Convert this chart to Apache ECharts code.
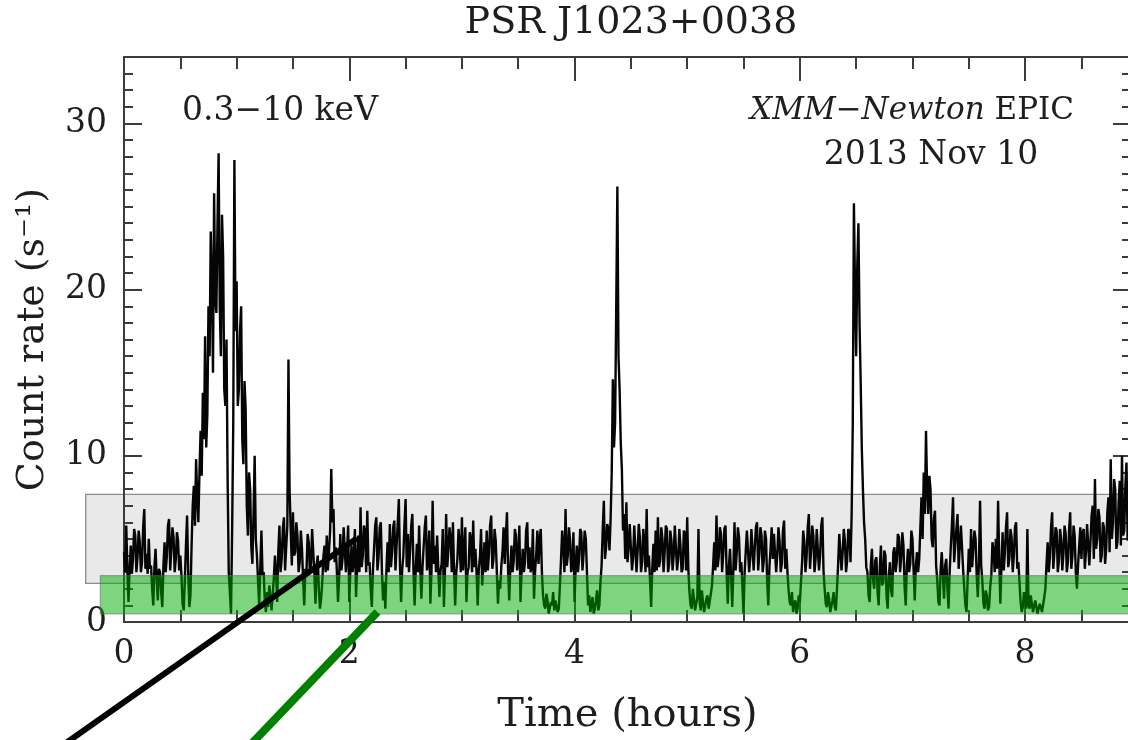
<!DOCTYPE html>
<html>
<head>
<meta charset="utf-8">
<title>PSR J1023+0038 light curve</title>
<script src="https://cdn.jsdelivr.net/npm/echarts/dist/echarts.min.js"></script>
<style>
  html, body { margin: 0; padding: 0; background: #ffffff; }
  #chart { width: 1128px; height: 740px; }
</style>
</head>
<body>
<div id="chart"></div>
<script>
// EPIC 0.3-10 keV count rate, binned every 0.01 h, one array per hour of exposure
const BIN_HOURS = 0.01;
const BINS_PER_HOUR = 100;
const rateHour0 = [
  4.2,3.0, 5.8,3.1, 1.2,3.3, 4.6,2.9, 3.8,5.6, 5.2,3.0, 3.9,5.5, 4.8,3.0, 3.6,5.7, 6.8,3.2,
  4.1,2.9, 5.0,3.2, 3.4,2.0, 1.0,3.3, 4.4,2.6, 1.3,3.2, 3.0,1.8, 0.9,3.4, 4.8,3.0, 3.9,5.8,
  6.2,3.1, 4.3,5.7, 5.1,3.0, 3.8,5.4, 4.9,3.1, 4.0,2.8, 1.1,0.7, 2.5,4.6, 6.4,3.0, 0.9,1.6,
  4.6,7.0, 8.2,5.8, 9.8,7.5, 6.0,9.0, 11.5,8.8, 13.8,11.0, 17.2,10.5, 12.5,19.0, 16.0,23.5, 20.5,15.0,
  25.8,19.5, 18.6,24.0, 28.2,19.0, 16.0,24.5, 22.0,14.0, 13.0,17.0, 8.5,3.0, 1.8,0.5, 5.5,12.0, 27.8,17.5];
const rateHour1 = [
  20.5,13.0, 14.0,17.5, 19.0,11.0, 9.5,14.5, 12.8,7.0, 5.2,9.0, 8.0,4.5, 3.5,6.5, 10.0,5.0, 4.0,2.5,
  1.0,3.3, 5.5,2.8, 3.0,1.2, 0.6,1.8, 0.9,2.2, 1.5,0.7, 0.8,2.6, 4.0,3.0, 1.2,4.3, 5.8,3.0,
  3.8,5.6, 6.3,3.1, 4.5,5.8, 15.8,8.0, 5.5,3.4, 6.6,4.0, 4.2,6.0, 5.2,3.0, 3.6,5.5, 4.4,2.6,
  1.0,3.2, 3.0,5.3, 4.8,3.0, 3.5,5.6, 5.6,2.9, 1.1,3.4, 4.0,1.9, 0.8,1.4, 2.4,3.9, 4.6,3.0,
  5.2,3.1, 3.0,5.5, 9.2,6.0, 6.8,3.6, 4.5,3.0, 1.2,2.6, 5.3,3.1, 3.8,5.7, 5.8,3.0, 4.2,5.8];
const rateHour2 = [
  1.2,3.2, 4.6,3.0, 3.8,5.6, 1.5,3.4, 5.2,3.0, 6.9,3.3, 4.0,5.8, 5.5,3.0, 6.7,3.4, 3.6,2.0,
  0.9,3.1, 4.4,5.8, 6.3,3.1, 3.9,5.7, 6.0,3.0, 1.3,2.4, 0.8,3.2, 4.8,3.0, 5.9,3.3, 4.2,5.7,
  6.1,3.1, 4.6,5.9, 7.4,3.4, 1.2,3.2, 4.0,5.9, 7.4,3.3, 5.3,3.0, 4.3,5.8, 6.5,3.1, 1.0,3.2,
  4.7,3.0, 5.8,3.2, 1.4,3.3, 4.5,5.7, 6.4,3.1, 3.7,5.5, 1.1,3.1, 7.3,3.5, 4.6,3.0, 5.2,3.2,
  1.5,3.1, 3.5,5.6, 0.9,3.2, 6.5,3.3, 4.4,5.7, 5.0,3.0, 6.0,3.1, 1.0,3.0, 3.8,5.6, 4.7,3.0];
const rateHour3 = [
  6.3,3.1, 4.2,5.7, 1.2,3.0, 3.3,5.4, 5.0,3.0, 6.1,3.3, 4.4,3.0, 1.0,3.2, 3.9,5.6, 2.2,3.4,
  4.8,3.0, 5.5,3.1, 4.1,5.8, 6.4,3.2, 3.8,5.6, 4.9,3.0, 1.1,2.5, 2.0,3.4, 4.2,5.7, 3.5,5.2,
  6.6,3.1, 1.3,3.3, 4.6,3.0, 3.7,5.6, 5.2,3.1, 4.0,5.8, 1.2,3.1, 4.4,3.0, 3.6,5.5, 6.0,3.2,
  4.5,3.0, 3.3,5.6, 1.4,3.1, 4.1,5.5, 3.5,5.0, 5.6,3.0, 1.6,1.0, 0.8,1.7, 1.3,0.5, 0.6,1.2,
  1.0,1.8, 0.7,1.3, 1.4,0.6, 0.8,2.2, 3.8,5.5, 4.5,3.0, 6.8,3.4, 4.0,5.7, 4.9,3.0, 3.5,5.4];
const rateHour4 = [
  1.2,3.4, 4.6,3.0, 3.8,5.6, 5.4,3.1, 4.1,5.5, 5.0,3.0, 1.0,1.6, 0.6,1.1, 1.5,0.5, 0.8,1.3,
  1.9,0.7, 1.0,2.4, 3.4,5.6, 7.3,3.8, 4.5,5.9, 5.6,4.3, 6.2,9.0, 14.6,10.5, 12.0,19.0, 26.2,16.0,
  14.0,10.8, 9.2,5.5, 6.5,3.8, 7.2,3.6, 4.5,5.9, 6.0,3.1, 3.9,5.8, 5.8,3.0, 4.3,5.9, 5.1,3.0,
  3.6,5.6, 4.8,3.0, 6.8,3.3, 4.0,2.5, 0.9,3.2, 4.7,3.0, 5.5,3.1, 6.3,3.3, 3.7,5.7, 5.0,3.0,
  4.2,5.8, 5.6,3.0, 3.5,5.5, 4.9,3.1, 4.0,5.8, 5.8,3.1, 3.8,5.6, 4.6,3.0, 3.2,5.5, 5.3,3.1];
const rateHour5 = [
  6.3,3.2, 1.8,1.0, 0.8,2.0, 1.4,0.7, 0.6,1.5, 5.6,1.2, 0.7,1.9, 1.2,0.6, 0.5,1.4, 1.6,0.8,
  0.9,1.7, 2.2,3.4, 4.8,3.1, 6.4,3.3, 3.9,5.7, 5.3,3.0, 4.1,5.6, 5.8,3.0, 1.1,3.3, 4.4,2.7,
  0.9,3.2, 6.0,3.1, 4.2,5.7, 5.1,3.0, 3.6,2.2, 0.5,3.0, 4.3,5.5, 5.4,3.0, 3.9,5.6, 5.7,3.1,
  4.5,5.7, 6.0,3.1, 4.1,5.7, 5.2,3.0, 3.7,5.5, 5.0,2.4, 1.0,3.3, 4.4,5.7, 3.8,5.3, 5.4,3.0,
  4.1,5.7, 4.9,3.0, 3.5,5.5, 6.1,3.2, 4.4,3.0, 1.9,1.2, 1.0,1.8, 0.6,1.1, 1.3,0.5, 0.8,1.6];
const rateHour6 = [
  1.2,2.4, 3.6,5.5, 4.8,3.0, 3.9,5.7, 6.5,3.2, 4.3,5.8, 5.2,3.0, 3.8,5.6, 5.5,3.1, 4.0,5.8,
  6.3,3.1, 2.0,1.1, 0.9,1.8, 1.4,0.6, 0.6,1.3, 1.8,0.9, 0.7,2.0, 3.5,5.3, 5.4,3.1, 4.2,5.6,
  4.9,3.0, 3.7,5.6, 5.4,3.6, 6.5,12.0, 25.2,20.0, 16.0,21.5, 24.0,18.0, 14.5,10.5, 8.0,6.0, 5.0,3.3,
  3.0,1.6, 1.2,3.4, 4.4,2.6, 2.0,3.7, 3.9,1.8, 1.0,3.3, 4.6,2.2, 2.4,4.3, 4.0,1.5, 0.8,2.8,
  3.6,1.9, 1.5,4.2, 4.5,3.0, 3.6,5.3, 5.1,3.0, 3.9,5.4, 4.6,2.1, 1.0,3.4, 4.4,3.0, 3.5,5.5];
const rateHour7 = [
  5.0,3.1, 1.3,3.4, 4.2,3.0, 3.8,5.7, 7.5,5.0, 9.0,6.5, 11.5,8.0, 6.5,8.8, 8.0,5.0, 4.5,6.2,
  6.7,3.4, 2.5,1.2, 1.0,3.2, 4.2,2.8, 1.4,3.4, 3.8,2.0, 0.8,3.0, 4.5,5.8, 7.5,3.6, 3.6,5.6,
  6.5,3.2, 4.6,5.8, 5.8,3.1, 2.0,1.0, 0.6,2.6, 4.4,3.0, 5.6,3.3, 3.3,5.5, 5.0,2.8, 1.5,3.6,
  7.3,3.4, 2.5,1.1, 0.8,1.9, 1.6,0.7, 0.9,2.1, 2.8,4.8, 4.3,3.0, 5.0,3.2, 7.3,3.8, 1.1,3.4,
  5.4,3.1, 4.1,5.7, 6.6,3.3, 3.8,5.6, 5.1,3.0, 4.0,5.7, 6.0,3.2, 3.6,2.4, 1.2,0.6, 0.9,1.8];
const rateHour8 = [
  1.4,0.8, 5.6,1.0, 0.8,1.6, 1.5,0.6, 0.6,1.3, 1.2,0.5, 0.5,1.1, 1.0,0.6, 0.7,1.5, 2.0,3.5,
  4.8,3.0, 3.9,5.7, 6.6,3.2, 4.2,5.7, 5.5,3.0, 3.7,5.6, 5.0,3.1, 4.1,5.8, 5.3,3.0, 3.6,5.5,
  6.6,3.2, 4.0,5.8, 5.2,3.0, 2.0,3.4, 4.6,5.7, 3.8,5.4, 5.6,3.2, 4.2,5.9, 6.0,3.4, 4.8,6.4,
  7.0,3.8, 8.6,4.4, 5.0,6.8, 6.3,3.6, 4.0,6.0, 5.7,3.5, 4.4,6.6, 7.5,4.2, 9.8,5.0, 6.0,8.6,
  8.0,4.4, 4.8,7.2, 8.5,4.6, 10.0,5.2, 5.5,8.2, 9.6,4.9, 6.0,8.0, 7.2];
const rateByHour = [rateHour0, rateHour1, rateHour2, rateHour3, rateHour4,
  rateHour5, rateHour6, rateHour7, rateHour8];

// axis ranges and tick steps
const timeMax = 8.94;
const rateMax = 34;
const timeMajorStep = 2, timeMinorStep = 0.5;
const rateMajorStep = 10, rateMinorStep = 1;

// shaded count-rate ranges: bright (high) mode and faint (low) mode
const highModeBand = [2.33, 7.68];
const lowModeBand = [0.48, 2.79];
const highModeBandStart = -0.34;
const lowModeBandStart = -0.21;
const bandEnd = 9.4;

// call-out lines leaving the panel towards the lower left
const highModeCallout = [[2.07, 5.05], [-0.75, -8.4]];
const lowModeCallout = [[2.25, 0.6], [0.98, -8.4]];

const FONT = '"DejaVu Serif", "Liberation Serif", serif';
const INK = '#1e1e1e';
const FRAME = '#3c3c3c';

const curve = [];
rateByHour.forEach(function (rates, h) {
  rates.forEach(function (v, k) {
    const t = Math.round((h * BINS_PER_HOUR + k) * BIN_HOURS * 100) / 100;
    curve.push([t, v]);
  });
});

const chart = echarts.init(document.getElementById('chart'), null, { renderer: 'canvas' });

const tickStyle = { color: FRAME, width: 2 };

function timeAxis(position, step, tickLen, withLine, withLabels) {
  const ax = {
    type: 'value', position: position, min: 0, max: timeMax, interval: step,
    axisLine: { show: withLine, onZero: false, lineStyle: { color: FRAME, width: 2 } },
    axisTick: { show: true, inside: true, length: tickLen, lineStyle: tickStyle },
    axisLabel: { show: withLabels, margin: 16, fontSize: 33, fontFamily: FONT, color: INK, showMaxLabel: false },
    splitLine: { show: false }
  };
  if (withLabels) {
    ax.name = 'Time (hours)';
    ax.nameLocation = 'middle';
    ax.nameGap = 74;
    ax.nameMoveOverlap = false;
    ax.nameTextStyle = { fontSize: 40, fontFamily: FONT, color: INK };
  }
  return ax;
}

function rateAxis(position, step, tickLen, withLine, withLabels) {
  const ax = {
    type: 'value', position: position, min: 0, max: rateMax, interval: step,
    axisLine: { show: withLine, onZero: false, lineStyle: { color: FRAME, width: 2 } },
    axisTick: { show: true, inside: true, length: tickLen, lineStyle: tickStyle },
    axisLabel: { show: withLabels, margin: 17, fontSize: 33, fontFamily: FONT, color: INK, showMaxLabel: false },
    splitLine: { show: false }
  };
  if (withLabels) {
    ax.name = 'Count rate (s\u207B\u00B9)';
    ax.nameLocation = 'middle';
    ax.nameRotate = 90;
    ax.nameGap = 72;
    ax.nameMoveOverlap = false;
    ax.nameTextStyle = { fontSize: 38, fontFamily: FONT, color: INK };
  }
  return ax;
}

const option = {
  animation: false,
  backgroundColor: '#ffffff',
  grid: { left: 124, right: -3, top: 57, bottom: 118, containLabel: false, outerBoundsMode: 'none' },
  xAxis: [
    timeAxis('bottom', timeMajorStep, 24, true, true),
    timeAxis('bottom', timeMinorStep, 12, false, false),
    timeAxis('top', timeMajorStep, 24, true, false),
    timeAxis('top', timeMinorStep, 12, false, false)
  ],
  yAxis: [
    rateAxis('left', rateMajorStep, 18, true, true),
    rateAxis('left', rateMinorStep, 9, false, false),
    rateAxis('right', rateMajorStep, 18, true, false),
    rateAxis('right', rateMinorStep, 9, false, false)
  ],
  series: [{
    name: 'EPIC count rate',
    type: 'line',
    xAxisIndex: 0,
    yAxisIndex: 0,
    data: curve,
    showSymbol: false,
    symbol: 'none',
    sampling: false,
    z: 3,
    lineStyle: { color: '#050505', width: 2.4, join: 'bevel' },
    clip: true
  }]
};

chart.setOption(option);

// overlays placed in data space
const toPx = function (pt) { return chart.convertToPixel({ seriesIndex: 0 }, pt); };

function band(range, startT, z, style) {
  const a = toPx([startT, range[1]]);
  const b = toPx([bandEnd, range[0]]);
  return {
    type: 'rect', z: z, silent: true,
    shape: { x: a[0], y: a[1], width: b[0] - a[0], height: b[1] - a[1] },
    style: style
  };
}

function callout(seg, color, width) {
  const a = toPx(seg[0]);
  const b = toPx(seg[1]);
  return {
    type: 'line', z: 20, silent: true,
    shape: { x1: a[0], y1: a[1], x2: b[0], y2: b[1] },
    style: { stroke: color, lineWidth: width, lineCap: 'butt' }
  };
}

function label(text, x, y, align, extra) {
  const style = Object.assign({
    text: text, x: x, y: y, align: align, verticalAlign: 'middle',
    fontSize: 33, fontFamily: FONT, fill: INK
  }, extra || {});
  return { type: 'text', z: 20, silent: true, style: style };
}

chart.setOption({
  graphic: {
    elements: [
      band(highModeBand, highModeBandStart, -10,
        { fill: '#e9e9e9', stroke: '#8c8c8c', lineWidth: 1.3 }),
      band(lowModeBand, lowModeBandStart, 10,
        { fill: 'rgba(0, 170, 0, 0.5)', stroke: 'rgba(90, 110, 90, 0.55)', lineWidth: 1.2 }),
      callout(highModeCallout, '#000000', 6),
      callout(lowModeCallout, '#008000', 8),
      label('PSR J1023+0038', 631, 23, 'center', { fontSize: 38 }),
      label('0.3\u221210 keV', 182, 111, 'left'),
      label('{it|XMM\u2212Newton} EPIC', 1074, 111, 'right', {
        fontSize: 31,
        rich: { it: { fontStyle: 'italic', fontSize: 31, fontFamily: FONT, fill: INK } }
      }),
      label('2013 Nov 10', 931, 155, 'center')
    ]
  }
});
</script>
</body>
</html>
